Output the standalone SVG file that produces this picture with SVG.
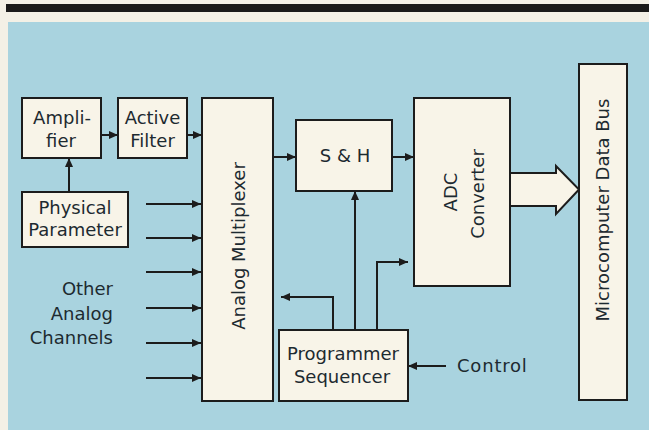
<svg xmlns="http://www.w3.org/2000/svg" width="649" height="430" viewBox="0 0 649 430">
<style>
.box{fill:#f8f4e8;stroke:#1c1c1c;stroke-width:2}
.t{font-family:"DejaVu Sans",sans-serif;font-size:18px;fill:#1d2a30}
.c{text-anchor:middle}
.ln{fill:none;stroke:#1c1c1c;stroke-width:2;marker-end:url(#ah)}
</style>
<defs>
<marker id="ah" markerUnits="userSpaceOnUse" markerWidth="9" markerHeight="8" refX="9" refY="4" orient="auto">
<path d="M0,0 L9,4 L0,8 z" fill="#1c1c1c"/>
</marker>
</defs>
<rect x="0" y="0" width="649" height="430" fill="#f3f0e6"/>
<rect x="6" y="4" width="643" height="8" fill="#1a1a1a"/>
<rect x="8" y="22" width="641" height="408" fill="#a9d3df"/>

<g id="connectors">
<path class="ln" d="M69,192 V158"/>
<path class="ln" d="M101,135 H118"/>
<path class="ln" d="M187,135 H202"/>
<path class="ln" d="M146,204 H201"/>
<path class="ln" d="M146,238 H201"/>
<path class="ln" d="M146,272 H201"/>
<path class="ln" d="M146,308 H201"/>
<path class="ln" d="M146,343 H201"/>
<path class="ln" d="M146,378 H201"/>
<path class="ln" d="M274,157 H296"/>
<path class="ln" d="M392,157 H414"/>
<path class="ln" d="M355,330 V191"/>
<path class="ln" d="M333,330 V297 H281"/>
<path class="ln" d="M377,330 V262 H408"/>
<path class="ln" d="M446,366 H408"/>
<polygon points="510,173 556,173 556,166 579,189.5 556,214 556,206 510,206" fill="#f8f4e8" stroke="#1c1c1c" stroke-width="2"/>
</g>

<g id="amplifier">
<rect class="box" x="22" y="98" width="79" height="60"/>
<text class="t c" x="62" y="124">Ampli-</text>
<text class="t c" x="61" y="147">fier</text>
</g>
<g id="active-filter">
<rect class="box" x="118" y="98" width="69" height="60"/>
<text class="t c" x="152.5" y="124">Active</text>
<text class="t c" x="152.5" y="147">Filter</text>
</g>
<g id="physical-parameter">
<rect class="box" x="22" y="192" width="106" height="55"/>
<text class="t c" x="75" y="214">Physical</text>
<text class="t c" x="75" y="236">Parameter</text>
</g>
<g id="other-channels">
<text class="t" text-anchor="end" x="113" y="295">Other</text>
<text class="t" text-anchor="end" x="113" y="320">Analog</text>
<text class="t" text-anchor="end" x="113" y="344">Channels</text>
</g>
<g id="analog-multiplexer">
<rect class="box" x="202" y="98" width="71" height="303"/>
<text class="t c" transform="translate(245,246) rotate(-90)">Analog Multiplexer</text>
</g>
<g id="sample-hold">
<rect class="box" x="296" y="120" width="96" height="71"/>
<text class="t c" x="345" y="162">S &amp; H</text>
</g>
<g id="adc-converter">
<rect class="box" x="414" y="98" width="96" height="188"/>
<text class="t c" transform="translate(457,192) rotate(-90)">ADC</text>
<text class="t c" transform="translate(484,194) rotate(-90)">Converter</text>
</g>
<g id="programmer-sequencer">
<rect class="box" x="279" y="330" width="129" height="71"/>
<text class="t c" x="343" y="360">Programmer</text>
<text class="t c" x="342" y="383">Sequencer</text>
</g>
<g id="control">
<text class="t" x="457" y="372" letter-spacing="0.8">Control</text>
</g>
<g id="data-bus">
<rect class="box" x="579" y="64" width="48" height="336"/>
<text class="t c" transform="translate(609,210) rotate(-90)">Microcomputer Data Bus</text>
</g>
</svg>
